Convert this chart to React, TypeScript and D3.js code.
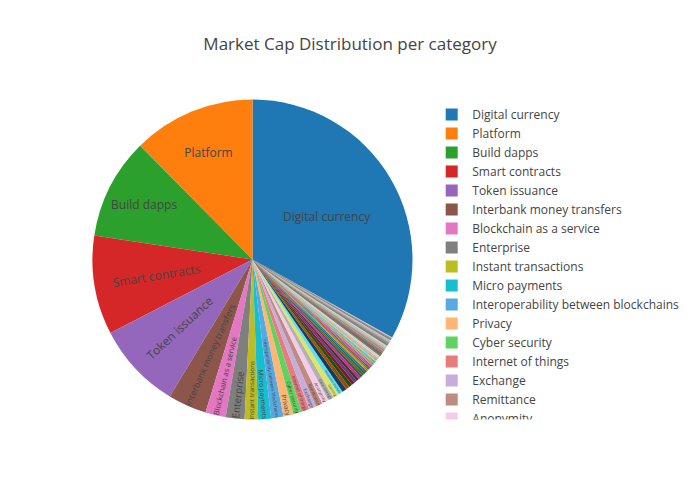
import React, { useMemo } from 'react';
import * as d3 from 'd3';

const chartTitle = 'Market Cap Distribution per category';

const categories: string[] = [
  'Digital currency', 'Platform', 'Build dapps', 'Smart contracts', 'Token issuance',
  'Interbank money transfers', 'Blockchain as a service', 'Enterprise', 'Instant transactions',
  'Micro payments', 'Interoperability between blockchains', 'Privacy', 'Cyber security',
  'Internet of things', 'Exchange', 'Remittance', 'Anonymity',
  'Data storage', 'Gaming', 'Prediction markets', 'Supply chain', 'Decentralized exchange',
  'Identity management', 'Lending', 'Advertising', 'Content sharing', 'Social network',
  'Cloud computing', 'Healthcare', 'Real estate', 'Energy', 'Gambling', 'Voting',
  'Crowdfunding', 'Insurance', 'Asset management', 'Oracles',
  'Payments', 'Marketplace', 'Music', 'Education', 'Charity', 'Tourism', 'Logistics',
  'Ride sharing', 'Freelancing', 'Stablecoin', 'Mining', 'Wallet', 'Escrow', 'Governance',
  'Trading', 'Investment', 'Banking', 'Retail', 'E-commerce', 'Media',
  'Sports', 'Art', 'Legal', 'Recruitment', 'Authentication',
  'Messaging', 'Computing power', 'Artificial intelligence', 'Big data', 'Analytics', 'Loyalty program',
  'Rewards', 'Telecom', 'Automotive', 'Agriculture', 'Food', 'Fashion',
  'Luxury goods', 'Collectibles', 'Betting', 'Esports', 'Virtual reality', 'Publishing', 'Journalism', 'Science',
  'Research', 'Government', 'Notary', 'Cannabis', 'Dating', 'Travel', 'Hospitality', 'Transport', 'Shipping', 'Manufacturing',
  'Events', 'Ticketing', 'Film', 'Video streaming', 'Photography', 'Domain names', 'VPN', 'Hosting',
  'Bandwidth sharing', 'Sidechain', 'Scaling', 'Masternode',
  'Staking', 'Derivatives', 'Options', 'Futures', 'Forex', 'Commodities', 'Gold-backed',
  'Precious metals', 'Carbon credits', 'Environment', 'Recycling', 'Water', 'Pharmaceuticals', 'Fitness',
  'Sharing economy', 'Peer-to-peer', 'Micro lending', 'Mobile payments', 'Point of sale',
  'Loyalty points', 'Affiliate marketing', 'Translation', 'Crowdsourcing', 'Reputation',
  'Quality assurance', 'Compliance', 'Auditing', 'Accounting', 'Tax', 'Payroll',
  'Human resources', 'Consulting', 'Cybersport', 'Dark web',
];

// market cap share in percent
const shares: number[] = [
  33.1, 12.4, 10.2, 10.0, 8.75,
  3.9, 2.06, 1.9, 1.35,
  1.3, 1.25, 1.0, 0.85,
  0.8, 0.72, 0.7, 0.68,
  0.6, 0.55, 0.5, 0.45, 0.37,
  0.34, 0.32, 0.3, 0.28, 0.26,
  0.24, 0.22, 0.21, 0.2, 0.17, 0.16,
  0.15, 0.14, 0.13, 0.12,
  0.11, 0.11, 0.1, 0.1, 0.09, 0.09, 0.085,
  0.08, 0.08, 0.075, 0.07, 0.07, 0.065, 0.06,
  0.06, 0.055, 0.055, 0.05, 0.05, 0.05,
  0.045, 0.045, 0.045, 0.045, 0.045,
  0.04, 0.04, 0.04, 0.04, 0.04, 0.04,
  0.035, 0.035, 0.035, 0.035, 0.035, 0.035,
  0.03, 0.03, 0.03, 0.03, 0.03, 0.03, 0.03, 0.03,
  0.025, 0.025, 0.025, 0.025, 0.025, 0.025, 0.025, 0.025, 0.025, 0.025,
  0.02, 0.02, 0.02, 0.02, 0.02, 0.02, 0.02, 0.02,
  0.02, 0.02, 0.02, 0.02,
  0.015, 0.015, 0.015, 0.015, 0.015, 0.015, 0.015,
  0.015, 0.015, 0.015, 0.015, 0.015, 0.015, 0.015,
  0.01, 0.01, 0.01, 0.01, 0.01,
  0.01, 0.01, 0.01, 0.01, 0.01,
  0.01, 0.01, 0.01, 0.01, 0.01, 0.01,
  0.01, 0.01, 0.01, 0.01,
];

const W = 700;
const H = 500;
const CX = 252.5;
const CY = 259.5;
const R = 160;
const FONT = "'Open Sans', verdana, arial, sans-serif";
const TEXT_COLOR = '#444';
const FS = 12;
const ASC = 1.069;
const DESC = 0.293;

function extendedColors(base: readonly string[]): string[] {
  const out = base.slice();
  base.forEach((c) => {
    const h = d3.hsl(c);
    out.push(d3.hsl(h.h, h.s, Math.min(1, h.l + 0.2)).formatHex());
  });
  base.forEach((c) => {
    const h = d3.hsl(c);
    out.push(d3.hsl(h.h, h.s, Math.max(0, h.l - 0.2)).formatHex());
  });
  return out;
}

let measureCtx: CanvasRenderingContext2D | null = null;
function textWidth(s: string): number {
  if (!measureCtx) {
    const c = document.createElement('canvas');
    measureCtx = c.getContext('2d');
  }
  if (!measureCtx) return s.length * 6.5;
  measureCtx.font = `${FS}px ${FONT}`;
  return measureCtx.measureText(s).width;
}

function insideTransform(w: number, h: number, frac: number, mid: number) {
  const halfAngle = Math.PI * Math.min(frac, 0.5);
  const ring = 1;
  const rIns = Math.min(1 / (1 + 1 / Math.sin(halfAngle)), 0.5);
  const diag = Math.sqrt(w * w + h * h);
  const aspect = w / h;
  const horiz = { scale: (rIns * R * 2) / diag, rCenter: 1 - rIns, rotate: 0 };
  if (horiz.scale >= 1) return horiz;
  const Qr = aspect + 1 / (2 * Math.tan(halfAngle));
  const mhr = R * Math.min(1 / (Math.sqrt(Qr * Qr + 0.5) + Qr), ring / (Math.sqrt(aspect * aspect + ring / 2) + aspect));
  const radial = {
    scale: (mhr * 2) / h,
    rCenter: Math.cos(mhr / R) - (mhr * aspect) / R,
    rotate: (((180 / Math.PI) * mid + 720) % 180) - 90,
  };
  const inv = 1 / aspect;
  const Qt = inv + 1 / (2 * Math.tan(halfAngle));
  const mwt = R * Math.min(1 / (Math.sqrt(Qt * Qt + 0.5) + Qt), ring / (Math.sqrt(inv * inv + ring / 2) + inv));
  const tang = {
    scale: (mwt * 2) / w,
    rCenter: Math.cos(mwt / R) - mwt / aspect / R,
    rotate: (((180 / Math.PI) * mid + 810) % 180) - 90,
  };
  const rot = tang.scale > radial.scale ? tang : radial;
  if (rot.scale > horiz.scale) return rot;
  return horiz;
}

export default function App() {
  const colors = useMemo(() => extendedColors(d3.schemeCategory10), []);
  const total = d3.sum(shares);
  const start = (2 * Math.PI * shares[0]) / total;
  const arcs = d3
    .pie<number>()
    .sort(null)
    .value((d) => d)
    .startAngle(start)
    .endAngle(start - 2 * Math.PI)(shares);
  const arcGen = d3.arc<d3.PieArcDatum<number>>().innerRadius(0).outerRadius(R);

  const legendX = 431.7;
  const legendY0 = 114.5;
  const legendStep = 19;
  const legendBottom = 419.5;
  // legend is a scroll box: only rows reaching into the visible window are drawn
  const visibleLegend = categories.filter((_, i) => legendY0 + i * legendStep - 8 < legendBottom);

  return (
    <svg width={W} height={H} style={{ position: 'absolute', left: 0, top: 0, background: '#fff' }}>
      <defs>
        <clipPath id="legclip">
          <rect x={425} y={100} width={275} height={legendBottom - 100} />
        </clipPath>
      </defs>
      <text x={350} y={50} textAnchor="middle" fontFamily={FONT} fontSize={17} fill={TEXT_COLOR}>
        {chartTitle}
      </text>
      <g transform={`translate(${CX},${CY})`}>
        {arcs.map((a, i) => {
          const label = categories[i];
          const w = textWidth(label);
          const h = FS * (ASC + DESC);
          const frac = a.value / total;
          const mid = (a.startAngle + a.endAngle) / 2;
          const t = insideTransform(w, h, frac, mid);
          const tx = R * Math.sin(mid) * t.rCenter;
          const ty = -R * Math.cos(mid) * t.rCenter;
          const sc = t.scale < 1 ? ` scale(${t.scale})` : '';
          const rt = t.rotate ? ` rotate(${t.rotate})` : '';
          return (
            <g key={i}>
              <path d={arcGen(a) || ''} fill={colors[i % colors.length]} />
              <text
                transform={`translate(${tx},${ty})${sc}${rt}`}
                y={(FS * (ASC - DESC)) / 2}
                textAnchor="middle"
                fontFamily={FONT}
                fontSize={FS}
                fill={TEXT_COLOR}
              >
                {label}
              </text>
            </g>
          );
        })}
      </g>
      <g clipPath="url(#legclip)">
        {visibleLegend.map((c, i) => {
          const y = legendY0 + i * legendStep;
          return (
            <g key={c} transform={`translate(${legendX},${y})`}>
              <rect x={14} y={-6} width={12} height={12} fill={colors[i % colors.length]} />
              <text x={40.6} y={(FS * (ASC - DESC)) / 2} fontFamily={FONT} fontSize={FS} fill={TEXT_COLOR}>
                {c}
              </text>
            </g>
          );
        })}
      </g>
    </svg>
  );
}
